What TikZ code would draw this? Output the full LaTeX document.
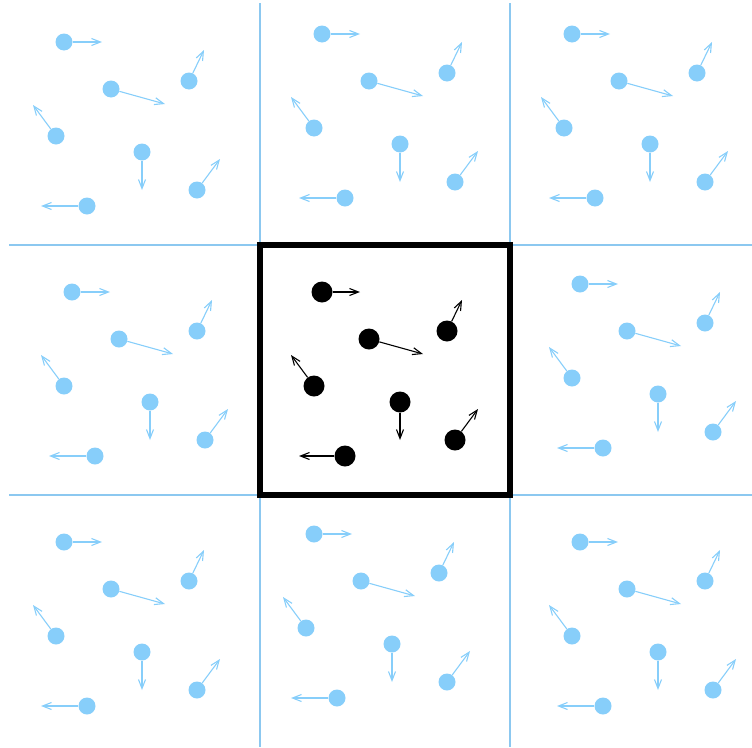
\documentclass[tikz,border=0pt]{standalone}
\usetikzlibrary{arrows.meta}
\definecolor{sky}{RGB}{135,206,250}
\definecolor{gridblue}{RGB}{140,200,240}
\begin{document}
\begin{tikzpicture}[x=1pt,y=-1pt,
  gridline/.style={gridblue, line width=1.8pt},
  imagep/.style={circle, fill=sky, inner sep=0pt, minimum size=17pt},
  realp/.style={circle, fill=black, inner sep=0pt, minimum size=21pt},
  vel/.style={line width=1.1pt, -{Straight Barb[length=9pt,width=7pt]}},
  simbox/.style={draw=black, line width=6pt, inner sep=0pt, minimum width=250pt, minimum height=250pt}]
\useasboundingbox (0,0) rectangle (752,747);
% periodic cell borders
\coordinate (h1a) at (9,245);   \coordinate (h1b) at (752,245);
\coordinate (h2a) at (9,495);   \coordinate (h2b) at (752,495);
\coordinate (v1a) at (260,3);   \coordinate (v1b) at (260,747);
\coordinate (v2a) at (510,3);   \coordinate (v2b) at (510,747);
\draw[gridline] (h1a) -- (h1b);
\draw[gridline] (h2a) -- (h2b);
\draw[gridline] (v1a) -- (v1b);
\draw[gridline] (v2a) -- (v2b);
% central simulation box
\node[simbox] (box) at (385,370) {};
% image particles
\foreach \cx/\cy/\c in {2/-5/a, 260/-13/b, 510/-13/c, 10/245/d, 518/237/f, 2/495/g, 252/487/h, 518/495/k}{
  \foreach \px/\py/\vx/\vy [count=\i] in {62/47/38/0, 109/94/54/15, 187/86/15/-31, 54/141/-23/-31, 140/157/0/38, 195/195/23/-31, 85/211/-46/0}{
    \node[imagep] (p\c\i) at ({\cx+\px},{\cy+\py}) {};
    \coordinate (t\c\i) at ({\cx+\px+\vx},{\cy+\py+\vy});
    \draw[vel, sky] (p\c\i) -- (t\c\i);
  }
}
% real particles
\foreach \px/\py/\vx/\vy [count=\i] in {62/47/38/0, 109/94/54/15, 187/86/15/-31, 54/141/-23/-31, 140/157/0/38, 195/195/23/-31, 85/211/-46/0}{
  \node[realp] (q\i) at ({260+\px},{245+\py}) {};
  \coordinate (u\i) at ({260+\px+\vx},{245+\py+\vy});
  \draw[vel, black] (q\i) -- (u\i);
}
\end{tikzpicture}
\end{document}
